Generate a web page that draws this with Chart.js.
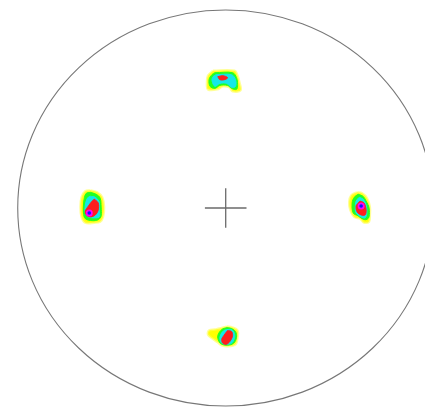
<!DOCTYPE html>
<html>
<head>
<meta charset="utf-8">
<script src="https://cdn.jsdelivr.net/npm/chart.js@4.4.0/dist/chart.umd.min.js"></script>
<style>
  html, body { margin: 0; padding: 0; background: #fff; }
  #wrap { width: 425px; height: 412px; position: relative; }
</style>
</head>
<body>
<div id="wrap"><canvas id="pole"></canvas></div>
<script>
// pole figure, projection coords (radius = 100)
var poleRadius = 100;
var crossH = [[-10, 0], [10, 0]];
var crossV = [[0, -10], [0, 10]];

// contour levels, outer -> inner
var levelNames = ['yellow', 'green', 'cyan', 'red'];
var levelColors = ['#ffff00', '#22ff22', '#14e8e8', '#ff1e1e'];

// top pole
var topYellow = [[-6.1,69.3],[4.2,69.3],[5.7,66.8],[6.6,63.4],[7.1,59.4],[3.3,58.9],[1.9,60.9],[-1.4,61.4],[-4.2,59.9],[-8.5,59.9],[-9.0,63.4],[-8.5,66.8]];
var topGreen = [[-5.2,68.3],[3.3,68.3],[5.2,65.8],[5.7,62.4],[5.2,59.9],[2.8,60.4],[0.9,61.9],[-2.8,61.9],[-5.2,60.4],[-7.5,61.4],[-8.0,64.8],[-6.6,67.3]];
var topCyan = [[-4.7,67.3],[2.8,67.3],[4.7,64.8],[4.7,61.4],[2.8,60.9],[0.5,62.9],[-2.8,62.9],[-5.2,61.4],[-6.6,64.4],[-6.1,66.3]];
var topRed = [[-3.8,66.3],[-1.4,66.8],[0.9,65.8],[-0.5,64.8],[-2.8,64.8]];

// left pole
var leftYellow = [[-65.1,8.9],[-61.8,7.9],[-59.4,5.4],[-58.5,0.5],[-59.0,-4.5],[-60.4,-6.9],[-63.2,-7.4],[-67.5,-7.4],[-69.3,-4.5],[-69.8,0.5],[-69.3,5.4],[-67.5,8.4]];
var leftGreen = [[-65.1,7.9],[-62.3,6.9],[-60.4,5.0],[-59.9,0.5],[-59.9,-4.0],[-61.3,-5.9],[-64.2,-6.4],[-67.5,-5.4],[-68.4,-2.5],[-68.4,1.5],[-67.9,5.4],[-67.0,7.4]];
var leftCyan = [[-65.1,5.9],[-62.7,5.4],[-60.8,3.0],[-60.8,-1.0],[-60.8,-4.5],[-63.2,-5.0],[-66.0,-4.5],[-67.5,-2.5],[-67.5,1.5],[-66.5,5.0]];
var leftRed = [[-63.2,4.5],[-61.3,2.5],[-61.3,-1.0],[-62.7,-3.5],[-65.1,-4.5],[-67.0,-3.5],[-67.5,-1.5],[-66.0,1.0],[-64.6,3.0]];

// right pole
var rightYellow = [[63.2,7.9],[65.6,7.4],[67.9,5.0],[69.3,0.5],[69.3,-3.5],[68.9,-6.9],[66.5,-7.4],[64.6,-5.4],[61.8,-4.5],[59.9,-1.0],[59.4,3.0],[60.4,6.4]];
var rightGreen = [[63.7,6.9],[66.0,5.9],[67.5,3.5],[68.9,0],[68.9,-4.5],[67.5,-5.9],[65.6,-5.4],[63.7,-4.0],[61.3,-2.5],[60.8,2.5],[61.8,5.4]];
var rightCyan = [[64.2,5.4],[66.0,4.5],[67.5,1.5],[67.9,-2.5],[67.0,-5.0],[65.1,-4.5],[62.7,-2.5],[62.3,0.5],[62.7,3.5]];
var rightRed = [[64.6,3.5],[66.5,2.5],[67.5,-1.0],[67.0,-3.5],[65.1,-3.5],[63.2,-2.0],[62.7,1.0],[63.7,2.5]];

// bottom pole
var bottomYellow = [[0.5,-59.9],[3.3,-60.4],[5.7,-61.9],[5.7,-65.3],[4.7,-68.8],[0.9,-69.8],[-1.9,-69.3],[-3.8,-67.8],[-6.6,-65.8],[-8.5,-63.9],[-8.0,-61.9],[-5.2,-61.4],[-2.8,-60.9]];
var bottomGreen = [[0.5,-60.4],[2.8,-60.9],[4.7,-62.4],[5.2,-65.3],[3.8,-68.3],[0.9,-69.3],[-1.9,-68.8],[-3.3,-67.3],[-3.8,-64.4],[-1.9,-61.4]];
var bottomCyan = [[0.5,-61.4],[2.8,-61.4],[4.2,-63.4],[4.2,-65.8],[2.8,-68.3],[0.5,-68.8],[-1.9,-68.3],[-2.8,-66.3],[-2.4,-63.9],[-0.9,-61.9]];
var bottomRed = [[0.9,-61.9],[2.8,-62.4],[3.3,-64.4],[2.4,-66.8],[0.5,-68.8],[-1.4,-68.3],[-1.9,-66.3],[-0.9,-64.4],[0.5,-62.4]];

// maxima
var peaks = [[-65.6,-2.5],[65.1,1.0]];

var poles = [
  [topYellow, topGreen, topCyan, topRed],
  [leftYellow, leftGreen, leftCyan, leftRed],
  [rightYellow, rightGreen, rightCyan, rightRed],
  [bottomYellow, bottomGreen, bottomCyan, bottomRed]
];

function toPts(arr, close) {
  var pts = arr.map(function(p) { return {x: p[0], y: p[1]}; });
  if (close) pts.push({x: arr[0][0], y: arr[0][1]});
  return pts;
}

var datasets = [];
poles.forEach(function(levels) {
  levels.forEach(function(poly, i) {
    datasets.push({
      label: levelNames[i],
      data: toPts(poly, true),
      showLine: true,
      fill: 'shape',
      tension: 0.35,
      backgroundColor: levelColors[i],
      borderColor: i === 0 ? 'rgba(255,255,80,0.6)' : levelColors[i],
      borderWidth: i === 0 ? 2.5 : 1,
      pointRadius: 0,
      order: 10 - i
    });
  });
});

datasets.push({
  label: 'peak',
  data: toPts(peaks, false),
  showLine: false,
  pointRadius: 3.5,
  pointBackgroundColor: '#ff00ff',
  pointBorderWidth: 0,
  order: 2
});
datasets.push({
  label: 'peak core',
  data: toPts(peaks, false),
  showLine: false,
  pointRadius: 1.8,
  pointBackgroundColor: '#1010ff',
  pointBorderWidth: 0,
  order: 1
});
[crossH, crossV].forEach(function(seg) {
  datasets.push({
    label: 'centre',
    data: toPts(seg, false),
    showLine: true,
    fill: false,
    borderColor: '#6a6a6a',
    borderWidth: 1.3,
    pointRadius: 0,
    order: 0
  });
});

// projection circle, sized from the scales
var circlePlugin = {
  id: 'circle',
  afterDatasetsDraw: function(chart) {
    var xs = chart.scales.x, ys = chart.scales.y, ctx = chart.ctx;
    var cx = xs.getPixelForValue(0), cy = ys.getPixelForValue(0);
    var rx = xs.getPixelForValue(poleRadius) - cx;
    var ry = cy - ys.getPixelForValue(poleRadius);
    ctx.save();
    ctx.strokeStyle = '#777';
    ctx.lineWidth = 1.1;
    ctx.beginPath();
    ctx.ellipse(cx, cy, rx, ry, 0, 0, Math.PI * 2);
    ctx.stroke();
    ctx.restore();
  }
};

var ctx = document.getElementById('pole').getContext('2d');
var chart = new Chart(ctx, {
  type: 'scatter',
  data: { datasets: datasets },
  options: {
    responsive: true,
    maintainAspectRatio: false,
    animation: false,
    layout: { padding: 0 },
    plugins: { legend: { display: false }, tooltip: { enabled: false } },
    scales: {
      x: { type: 'linear', min: -106.6, max: 93.9, display: false },
      y: { type: 'linear', min: -101, max: 103, display: false }
    }
  },
  plugins: [circlePlugin]
});
</script>
</body>
</html>
